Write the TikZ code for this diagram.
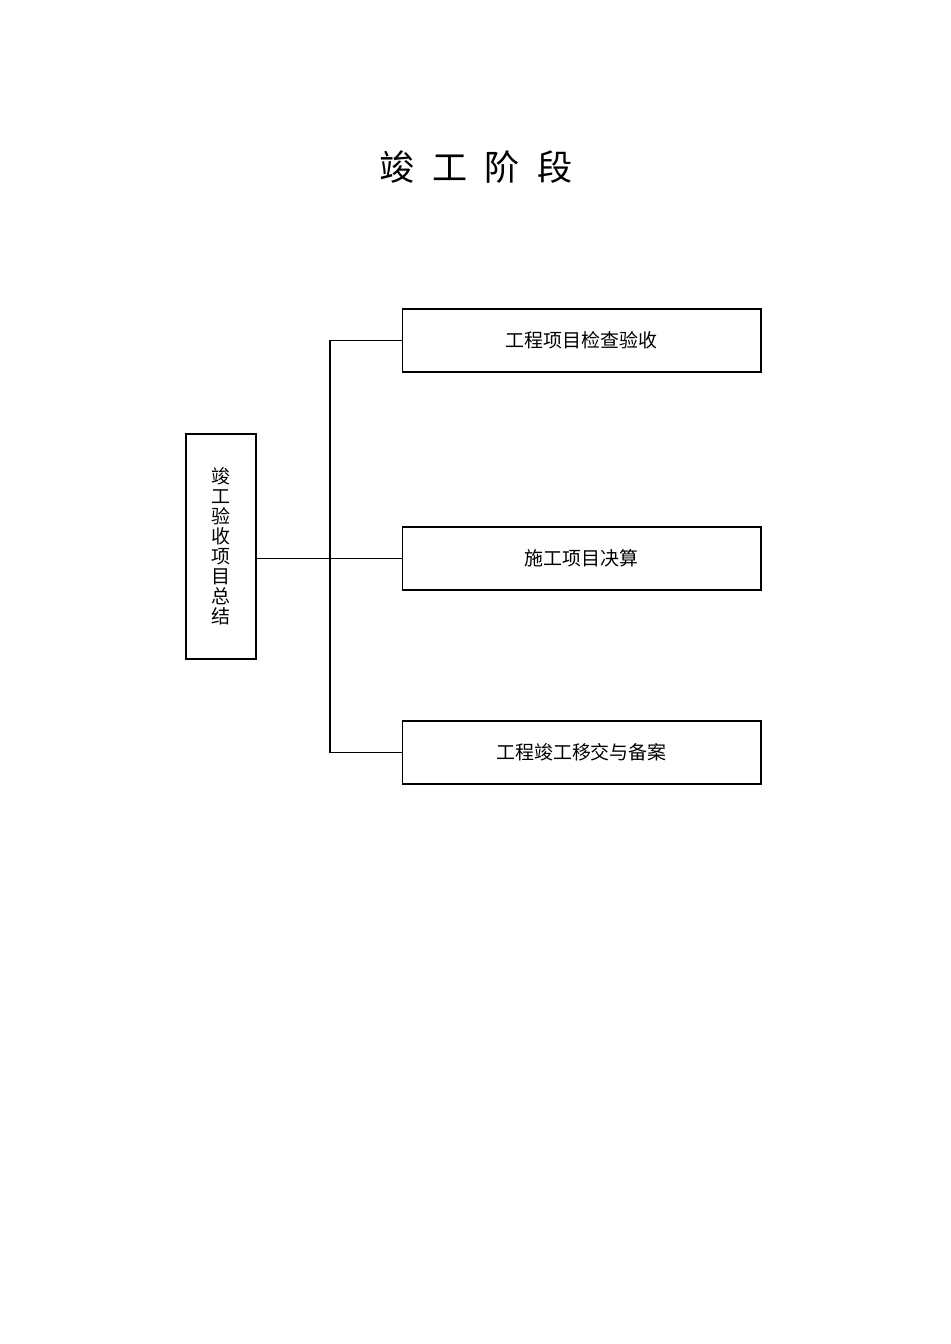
\documentclass[tikz,border=0pt]{standalone}
\usepackage{fontspec}
\newfontfamily\cjk{Noto Sans CJK SC}
\tikzset{
  stagebox/.style={draw, line width=0.6pt, minimum width=7.18cm, minimum height=1.26cm,
    font=\cjk\fontsize{10.8pt}{13pt}\selectfont, inner sep=0pt},
  sumbox/.style={draw, line width=0.6pt, minimum width=1.4cm, minimum height=4.5cm,
    font=\cjk\fontsize{10.8pt}{11.4pt}\selectfont, align=center, inner sep=0pt},
}
\begin{document}
\begin{tikzpicture}[x=0.02cm, y=-0.02cm]
  \useasboundingbox (0,0) rectangle (950,1344);
  \node[font=\cjk\fontsize{20pt}{24pt}\selectfont] (title) at (476,167)
    {竣\hspace{0.5em}工\hspace{0.5em}阶\hspace{0.5em}段};
  \node[sumbox] (sum) at (221,546.5) {竣\\工\\验\\收\\项\\目\\总\\结};
  \node[stagebox] (check) at (581.5,340.5) {工程项目检查验收};
  \node[stagebox] (settle) at (581.5,558.5) {施工项目决算};
  \node[stagebox] (handover) at (581.5,752.5) {工程竣工移交与备案};
  \coordinate (out) at (sum.east |- settle.west);
  \coordinate (trunk) at (330,558.5);
  \begin{scope}[line width=0.6pt]
    \draw (out) -- (trunk) -- (settle.west);
    \draw (check.west) -| (trunk) |- (handover.west);
  \end{scope}
\end{tikzpicture}
\end{document}
